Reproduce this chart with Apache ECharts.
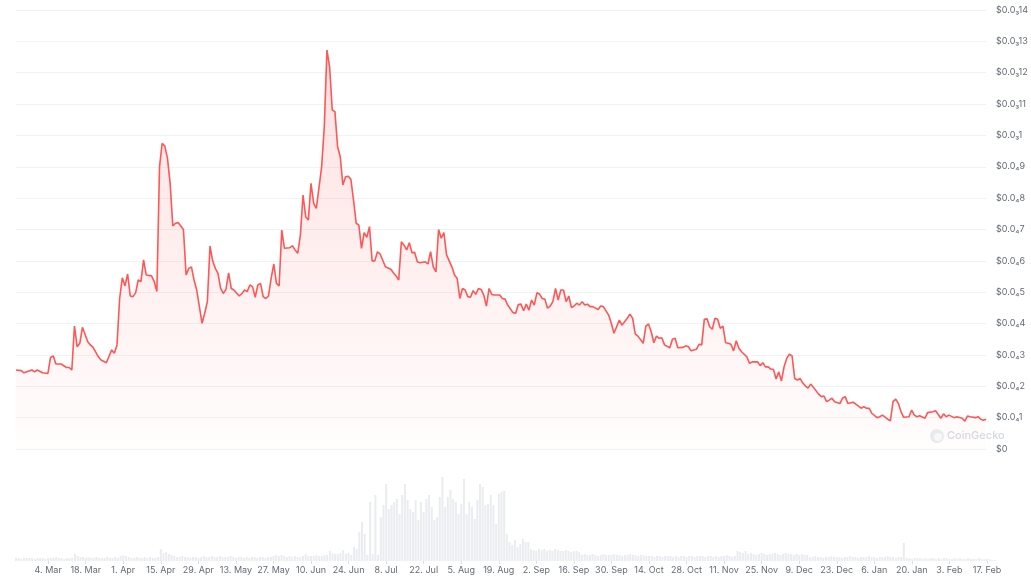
<!DOCTYPE html>
<html>
<head>
<meta charset="utf-8">
<title>Price chart</title>
<script src="https://cdn.jsdelivr.net/npm/echarts@6/dist/echarts.min.js"></script>
<style>
    html, body {margin: 0; padding: 0; background: #fff;}
    #chart {width: 1031px; height: 581px;}
</style>
</head>
<body>
<div id="chart"></div>
<script>
// day 0 = 21 Feb 2024, one year of daily data
const startDate = '2024-02-21';

// [day, price] price in units of $0.00001
const pricePoints = [
    [0, 2.52], [2, 2.50], [3, 2.43], [6, 2.52], [7, 2.46], [8, 2.52], [10, 2.43], [12, 2.41], [13, 2.92], [14, 2.97],
    [15, 2.71], [17, 2.71], [19, 2.60], [20, 2.60], [21, 2.52], [22, 3.92], [23, 3.26], [24, 3.37], [25, 3.88], [27, 3.42],
    [28, 3.32], [29, 3.24], [31, 2.94], [32, 2.84], [34, 2.75], [36, 3.16], [37, 3.05], [38, 3.32], [39, 4.80], [40, 5.46],
    [41, 5.20], [42, 5.58], [43, 4.88], [44, 4.86], [45, 4.98], [46, 5.39], [47, 5.34], [48, 6.03], [49, 5.55], [51, 5.52],
    [52, 5.34], [53, 5.02], [54, 9.00], [55, 9.75], [56, 9.66], [57, 9.27], [58, 8.47], [59, 7.11], [60, 7.20], [61, 7.22],
    [63, 7.00], [64, 5.55], [65, 5.76], [66, 5.81], [67, 5.39], [68, 5.07], [69, 4.54], [70, 4.01], [71, 4.33], [72, 4.70],
    [73, 6.47], [74, 6.00], [75, 5.76], [76, 5.60], [77, 5.12], [78, 4.96], [79, 5.09], [80, 5.62], [81, 5.12], [82, 5.07],
    [84, 4.88], [85, 4.96], [86, 5.07], [87, 5.02], [88, 5.23], [89, 5.18], [90, 4.84], [91, 5.23], [92, 5.28], [93, 4.86],
    [94, 4.80], [95, 4.88], [96, 5.44], [97, 5.90], [98, 5.28], [99, 5.20], [100, 6.98], [101, 6.40], [103, 6.42], [104, 6.48],
    [105, 6.35], [106, 6.24], [107, 6.82], [108, 8.10], [109, 7.41], [110, 7.30], [111, 8.47], [112, 7.83], [113, 7.67], [115, 9.00],
    [116, 10.28], [117, 12.72], [118, 12.19], [119, 10.81], [120, 10.76], [121, 9.64], [122, 9.32], [123, 8.42], [124, 8.68], [125, 8.70],
    [126, 8.60], [127, 7.94], [128, 7.20], [129, 7.14], [130, 6.40], [131, 6.90], [132, 6.75], [133, 7.09], [134, 6.00], [135, 6.00],
    [136, 6.29], [137, 6.22], [139, 5.81], [141, 5.73], [142, 5.62], [143, 5.52], [144, 5.39], [145, 6.61], [146, 6.50], [147, 6.35],
    [148, 6.58], [149, 6.26], [150, 6.27], [151, 5.97], [152, 5.94], [154, 5.97], [155, 5.90], [156, 6.29], [157, 5.81], [158, 5.65],
    [159, 7.00], [160, 6.72], [161, 6.90], [162, 6.19], [164, 5.81], [165, 5.55], [166, 5.44], [167, 4.80], [168, 5.12], [169, 5.07],
    [170, 4.86], [171, 4.84], [172, 5.05], [173, 4.93], [174, 5.12], [175, 5.09], [176, 4.91], [177, 4.56], [178, 5.12], [179, 4.93],
    [180, 4.91], [182, 4.91], [183, 4.80], [184, 4.78], [185, 4.59], [187, 4.35], [188, 4.33], [189, 4.61], [190, 4.62], [191, 4.41],
    [192, 4.62], [193, 4.43], [194, 4.75], [195, 4.59], [196, 4.98], [197, 4.94], [198, 4.80], [199, 4.78], [200, 4.49], [201, 4.56],
    [202, 4.70], [203, 5.12], [204, 4.75], [205, 5.07], [206, 5.07], [207, 4.70], [208, 4.88], [209, 4.51], [210, 4.56], [211, 4.65],
    [212, 4.59], [213, 4.70], [214, 4.59], [215, 4.62], [216, 4.54], [217, 4.54], [219, 4.45], [220, 4.56], [221, 4.54], [223, 4.27],
    [224, 4.01], [225, 3.69], [226, 3.90], [227, 4.11], [228, 3.95], [230, 4.17], [231, 4.30], [232, 4.17], [233, 3.67], [234, 3.60],
    [236, 3.37], [237, 3.92], [238, 3.99], [239, 3.74], [240, 3.39], [241, 3.60], [242, 3.53], [243, 3.55], [244, 3.32], [246, 3.23],
    [247, 3.50], [248, 3.53], [249, 3.23], [251, 3.24], [252, 3.29], [253, 3.26], [254, 3.13], [256, 3.18], [257, 3.34], [258, 3.32],
    [259, 4.14], [260, 4.15], [261, 3.90], [262, 3.82], [263, 4.17], [264, 4.14], [265, 3.85], [266, 3.92], [267, 3.39], [268, 3.37],
    [269, 3.34], [270, 3.13], [271, 3.45], [272, 3.21], [273, 3.10], [275, 2.94], [276, 2.73], [277, 2.78], [279, 2.78], [280, 2.66],
    [281, 2.75], [282, 2.62], [283, 2.62], [284, 2.55], [285, 2.54], [286, 2.23], [287, 2.46], [288, 2.17], [289, 2.62], [290, 2.89],
    [291, 3.02], [292, 2.97], [293, 2.25], [294, 2.20], [295, 2.25], [296, 2.11], [297, 2.01], [298, 1.94], [299, 2.07], [300, 1.97],
    [302, 1.75], [303, 1.67], [304, 1.69], [305, 1.51], [306, 1.56], [307, 1.62], [308, 1.51], [310, 1.45], [311, 1.62], [312, 1.67],
    [313, 1.45], [315, 1.49], [316, 1.43], [318, 1.30], [319, 1.35], [320, 1.30], [321, 1.30], [322, 1.14], [324, 1.00], [325, 1.03],
    [326, 1.08], [328, 0.95], [329, 0.90], [330, 1.51], [331, 1.59], [332, 1.45], [333, 1.19], [334, 1.01], [336, 1.03], [337, 1.24],
    [338, 1.08], [339, 1.03], [340, 1.06], [342, 0.98], [343, 1.16], [345, 1.19], [346, 1.22], [348, 0.98], [349, 1.12], [350, 1.03],
    [351, 1.08], [353, 1.00], [354, 1.03], [356, 0.98], [357, 0.89], [358, 1.05], [359, 1.03], [361, 1.00], [362, 1.03], [363, 0.95],
    [364, 0.92], [365, 0.95]
];

// daily volume from day 0 (relative units)
const volumes = [
    3, 3, 2, 3, 3, 3, 3, 2, 3, 3, 3, 2, 3, 3, 3, 4, 3, 3, 2, 3, 3, 3,
    7, 5, 4, 4,
    3, 4, 3, 3, 4, 3, 3, 3, 4, 3, 3, 4, 3,
    5, 6, 5,
    4, 3, 3, 4, 3, 3, 4, 3, 4, 3, 3, 4,
    12, 8, 9, 7, 6, 5,
    4, 4, 5, 4, 4, 3, 4, 4, 3,
    4, 5, 4, 4, 5, 4, 4, 5, 4, 4, 4, 5, 4,
    3, 4, 4, 3, 4, 3, 4, 4, 3, 4, 4, 3, 4, 4,
    5, 6, 5, 6, 5, 4, 5,
    4, 5, 4, 4, 5,
    7, 5, 5,
    5, 6, 5, 5, 6, 6,
    10, 8, 7, 7, 8,
    11, 7, 8, 6, 14, 12,
    29, 39, 27, 6, 59, 7, 66, 6, 44, 56, 77, 52, 56, 59, 62, 47, 66, 77, 61, 52,
    49, 61, 41, 59, 49, 62, 66, 54, 41, 44, 64, 84, 54, 64, 71, 62, 59, 47, 57, 82,
    47, 59, 54, 42, 61, 77, 74, 56, 57, 66, 56, 37, 67, 69, 70,
    27, 19, 16, 21, 14, 17, 22, 19, 19, 12, 11, 10,
    12, 11, 12, 10, 11, 10, 12, 11, 10, 10, 11, 10, 9, 10, 10, 9,
    6, 7, 6, 6, 7, 6, 5, 6, 7, 6, 6, 6, 7, 6, 6, 5, 6, 6, 7, 6, 6, 5, 6, 6, 5,
    5, 5, 4, 5, 5, 4, 5, 5, 5, 4, 5, 4, 5, 5, 4, 5, 5, 4, 5, 5, 5, 4, 5, 5, 4, 5, 4, 5, 5, 6, 5, 4, 5,
    10, 9, 8, 10,
    7, 8, 7, 6, 7, 8, 7, 6, 7, 7, 8, 7, 6, 7, 8, 7, 7, 6, 7, 6, 7, 6, 6,
    4, 4, 5, 4, 4, 3, 4, 4, 5, 4, 4, 4, 3, 4, 4, 5, 4, 4, 3, 4, 4, 4, 5, 4, 4, 3, 4, 4, 4, 5, 4, 4, 3, 4, 4,
    18,
    3, 3, 2, 3, 3, 3, 2, 3, 2, 3, 3, 2, 3, 2, 3, 3, 2, 2, 3, 2, 3, 2, 2, 3, 2, 2, 2, 3, 2, 2, 2, 2, 1, 1
];

const tickDates = [
    '2024-03-04', '2024-03-18', '2024-04-01', '2024-04-15', '2024-04-29', '2024-05-13', '2024-05-27',
    '2024-06-10', '2024-06-24', '2024-07-08', '2024-07-22', '2024-08-05', '2024-08-19', '2024-09-02',
    '2024-09-16', '2024-09-30', '2024-10-14', '2024-10-28', '2024-11-11', '2024-11-25', '2024-12-09',
    '2024-12-23', '2025-01-06', '2025-01-20', '2025-02-03', '2025-02-17'
];

const monthNames = ['Jan', 'Feb', 'Mar', 'Apr', 'May', 'Jun', 'Jul', 'Aug', 'Sep', 'Oct', 'Nov', 'Dec'];
const subDigits = ['₀', '₁', '₂', '₃', '₄', '₅', '₆', '₇', '₈', '₉'];

const DAY = 86400000;
const t0 = Date.parse(startDate + 'T00:00:00Z');
const lastDay = 365;

// x axis runs in days since startDate
let tickDays = tickDates.map(function (s) {
    return Math.round((Date.parse(s + 'T00:00:00Z') - t0) / DAY);
});

function dayLabel(d) {
    let date = new Date(t0 + Math.round(d) * DAY);
    return date.getUTCDate() + '. ' + monthNames[date.getUTCMonth()];
}

// 14 -> $0.0₃14, 9 -> $0.0₄9 (value in units of 0.00001)
function priceLabel(v) {
    v = Math.round(v);
    if (v === 0) {
        return '$0';
    }
    if (v >= 10) {
        let digits = String(v / 10).replace('.', '');
        return '$0.0' + subDigits[3] + digits;
    }
    return '$0.0' + subDigits[4] + v;
}

let chart = echarts.init(document.getElementById('chart'));

let option = {
    animation: false,
    backgroundColor: '#ffffff',
    textStyle: {fontFamily: 'Inter, "Noto Sans", sans-serif'},
    grid: [
        {left: 16, right: 36, top: 10, bottom: 132},
        {left: 16, right: 36, top: 470, bottom: 20}
    ],
    xAxis: [
        {
            type: 'value',
            gridIndex: 0,
            min: 0,
            max: lastDay,
            axisLine: {show: false},
            axisTick: {show: false},
            axisLabel: {show: false},
            splitLine: {show: false}
        },
        {
            type: 'value',
            gridIndex: 1,
            min: 0,
            max: lastDay,
            axisLine: {show: false},
            axisTick: {
                show: true,
                length: 3,
                customValues: tickDays,
                lineStyle: {color: '#dcdfe4'}
            },
            axisLabel: {
                show: true,
                customValues: tickDays,
                margin: 5,
                fontSize: 9,
                color: '#646b77',
                formatter: dayLabel
            },
            splitLine: {show: false}
        }
    ],
    yAxis: [
        {
            type: 'value',
            gridIndex: 0,
            position: 'right',
            min: 0,
            max: 14,
            interval: 1,
            axisLine: {show: false},
            axisTick: {show: false},
            axisLabel: {
                margin: 10,
                fontSize: 9,
                color: '#646b77',
                formatter: priceLabel
            },
            splitLine: {lineStyle: {color: '#f1f2f4', width: 1}}
        },
        {
            type: 'value',
            gridIndex: 1,
            min: 0,
            max: 91,
            show: false,
            splitLine: {show: false}
        }
    ],
    series: [
        {
            name: 'Volume',
            type: 'bar',
            xAxisIndex: 1,
            yAxisIndex: 1,
            barWidth: 2,
            itemStyle: {color: '#eaecf0'},
            data: volumes.map(function (v, i) {
                return [i, v];
            })
        },
        {
            name: 'Price',
            type: 'line',
            xAxisIndex: 0,
            yAxisIndex: 0,
            showSymbol: false,
            smooth: false,
            lineStyle: {color: '#ff5656', width: 1.6},
            areaStyle: {
                color: new echarts.graphic.LinearGradient(0, 0, 0, 1, [
                    {offset: 0, color: 'rgba(255, 86, 86, 0.26)'},
                    {offset: 1, color: 'rgba(255, 86, 86, 0.02)'}
                ])
            },
            data: pricePoints
        }
    ],
    graphic: [
        {
            type: 'circle',
            shape: {cx: 937, cy: 436, r: 7},
            style: {fill: '#e9eaec'},
            z: 10
        },
        {
            type: 'circle',
            shape: {cx: 938, cy: 437, r: 4},
            style: {fill: '#f7f7f8'},
            z: 11
        },
        {
            type: 'text',
            left: 947,
            top: 430,
            style: {
                text: 'CoinGecko',
                fontSize: 11,
                fontWeight: 500,
                fill: '#d5d8dc',
                fontFamily: 'Inter, sans-serif'
            },
            z: 10
        }
    ]
};

chart.setOption(option);
</script>
</body>
</html>
